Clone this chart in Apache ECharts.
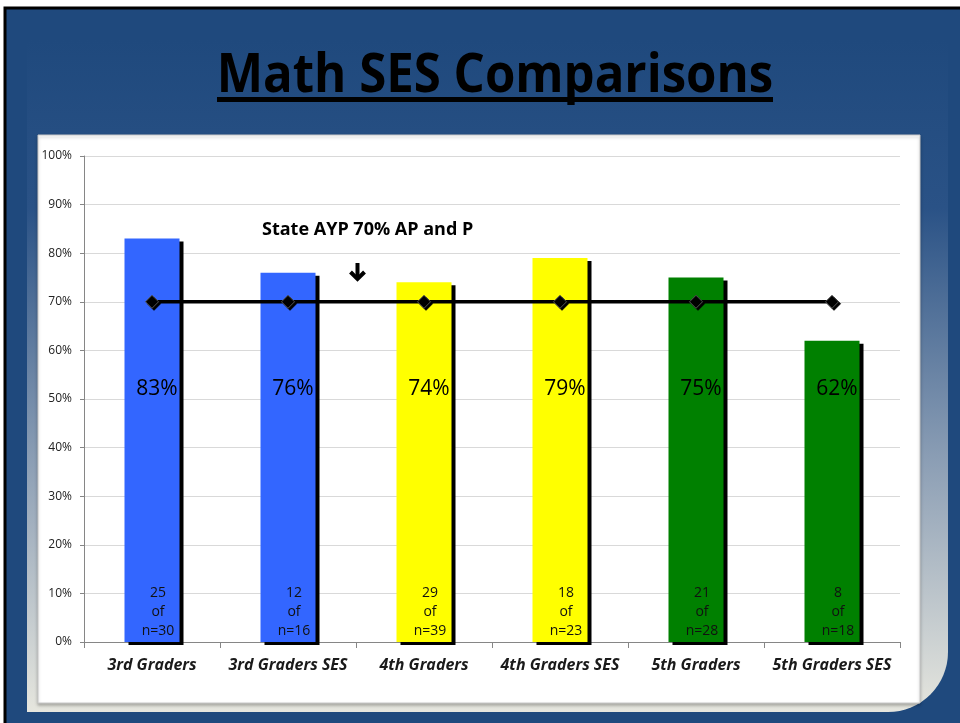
<!DOCTYPE html>
<html>
<head>
<meta charset="utf-8">
<script src="https://cdn.jsdelivr.net/npm/echarts@6/dist/echarts.min.js"></script>
<style>
  html, body { margin: 0; padding: 0; background: #fff; }
  #chart { width: 960px; height: 723px; }
</style>
</head>
<body>
<div id="chart"></div>
<script>
const categories = ['3rd Graders', '3rd Graders SES', '4th Graders', '4th Graders SES', '5th Graders', '5th Graders SES'];
const percents = [83, 76, 74, 79, 75, 62];
const passed = [25, 12, 29, 18, 21, 8];
const totals = [30, 16, 39, 23, 28, 18];
const barColors = ['#3366ff', '#3366ff', '#ffff00', '#ffff00', '#008000', '#008000'];
const ayp = [70, 70, 70, 70, 70, 70];

const chart = echarts.init(document.getElementById('chart'));

const font = '"Open Sans", "Noto Sans", sans-serif';

chart.setOption({
  animation: false,
  backgroundColor: '#fff',
  graphic: [
    // slide frame
    { type: 'rect', z: -10, shape: { x: 5, y: 8, width: 960, height: 720 },
      style: { fill: '#1f497d', stroke: '#000', lineWidth: 3 } },
    // inner gradient panel
    { type: 'rect', z: -9, shape: { x: 27, y: 40, width: 921, height: 672, r: [0, 0, 60, 0] },
      style: {
        fill: new echarts.graphic.LinearGradient(0, 0, 0, 1, [
          { offset: 0, color: '#1f497d' },
          { offset: 0.25, color: '#2a5286' },
          { offset: 0.62, color: '#8a9db4' },
          { offset: 1, color: '#e6e6de' }
        ])
      } },
    // white chart area
    { type: 'rect', z: -8, shape: { x: 38, y: 135, width: 882, height: 568 },
      style: { fill: '#fff', stroke: '#c8c8c8', lineWidth: 1, shadowColor: 'rgba(0,0,0,0.25)', shadowBlur: 3, shadowOffsetY: 2 } },
    // title
    { type: 'text', x: 495, y: 50, originX: 0, originY: 0, scaleX: 0.91,
      style: { text: 'Math SES Comparisons', font: 'bold 54px ' + font, fill: '#000', align: 'center', verticalAlign: 'top' } },
    { type: 'rect', shape: { x: 217, y: 97, width: 556, height: 5 }, style: { fill: '#000' } },
    // AYP annotation
    { type: 'text', left: 262, top: 221,
      style: { text: 'State AYP 70% AP and P', font: 'bold 18px ' + font, fill: '#000' } },
    { type: 'polyline', shape: { points: [[357.5, 263], [357.5, 279]] },
      style: { stroke: '#000', lineWidth: 4, fill: null } },
    { type: 'polyline', shape: { points: [[350.5, 272], [357.5, 279], [364.5, 272]] },
      style: { stroke: '#000', lineWidth: 4, fill: null } }
  ],
  grid: { left: 84, right: 60, top: 156, bottom: 81 },
  xAxis: {
    type: 'category',
    data: categories,
    axisLine: { lineStyle: { color: '#868686', width: 1 } },
    axisTick: { show: true, length: 6, lineStyle: { color: '#868686' } },
    axisLabel: { interval: 0, color: '#1a1a1a', fontFamily: font, fontWeight: 'bold', fontStyle: 'italic', fontSize: 16, margin: 15 }
  },
  yAxis: {
    type: 'value',
    min: 0, max: 100, interval: 10,
    axisLine: { show: true, lineStyle: { color: '#868686' } },
    axisTick: { show: true, length: 4, lineStyle: { color: '#868686' } },
    axisLabel: { color: '#222', fontFamily: font, fontSize: 12, margin: 12, formatter: '{value}%' },
    splitLine: { lineStyle: { color: '#d9d9d9' } }
  },
  series: [
    {
      type: 'bar',
      data: percents.map((v, i) => ({ value: v, itemStyle: { color: barColors[i] } })),
      barWidth: 55,
      itemStyle: { shadowColor: '#000', shadowOffsetX: 4, shadowOffsetY: 3, shadowBlur: 0 },
      label: {
        show: true, position: 'insideBottom', distance: 242, offset: [5, 0],
        formatter: p => p.value + '%',
        fontFamily: font, fontSize: 21, color: '#000'
      },
      z: 2
    },
    {
      type: 'bar',
      data: percents,
      barWidth: 55,
      barGap: '-100%',
      itemStyle: { color: 'rgba(0,0,0,0)' },
      label: {
        show: true, position: 'insideBottom', distance: 1, offset: [6, 0],
        formatter: p => passed[p.dataIndex] + '\nof\nn=' + totals[p.dataIndex],
        fontFamily: font, fontSize: 14, lineHeight: 19, color: '#111'
      },
      z: 3
    },
    {
      type: 'line',
      data: ayp,
      lineStyle: { color: '#000', width: 3.5 },
      symbol: 'diamond',
      symbolSize: 13,
      itemStyle: { color: '#000', borderColor: '#555', borderWidth: 1,
        shadowColor: '#000', shadowOffsetX: 2, shadowOffsetY: 2, shadowBlur: 0 },
      z: 5
    }
  ]
});
</script>
</body>
</html>
